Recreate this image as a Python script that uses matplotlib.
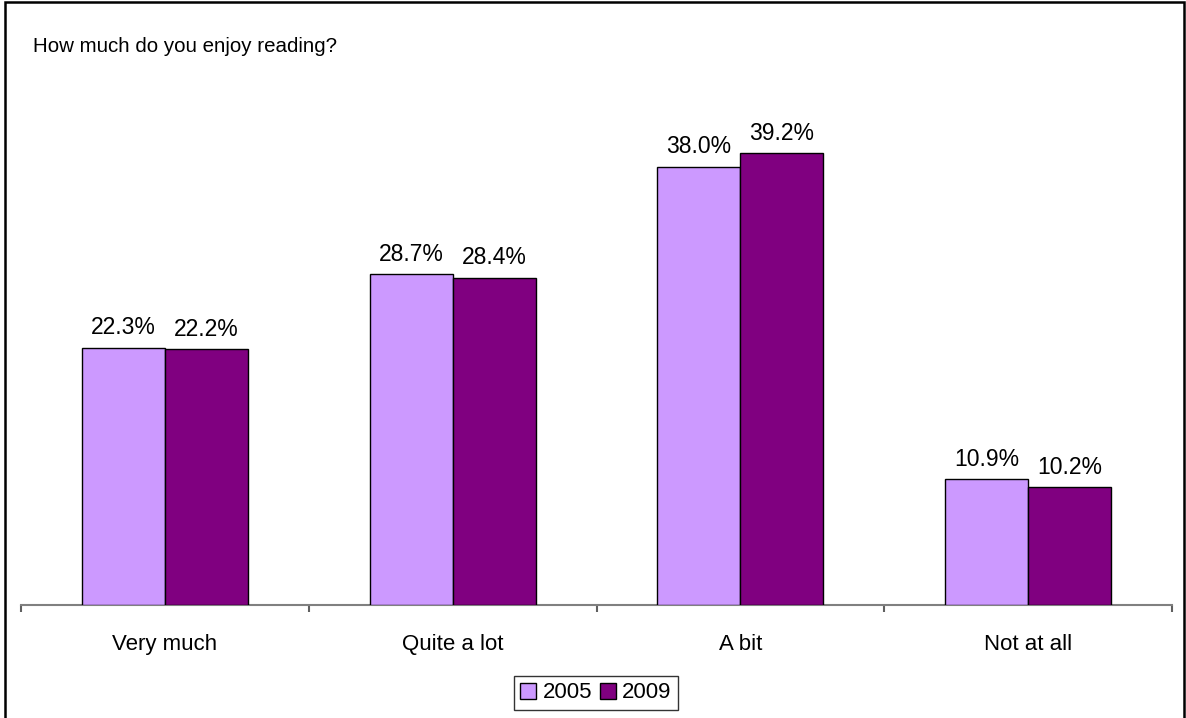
import matplotlib
matplotlib.use("Agg")
import matplotlib.pyplot as plt
from matplotlib.patches import Rectangle
import numpy as np

plt.rcParams['font.family'] = ['Liberation Sans', 'DejaVu Sans']

categories = ["Very much", "Quite a lot", "A bit", "Not at all"]
series_names = ["2005", "2009"]
values_2005 = [22.3, 28.7, 38.0, 10.9]
values_2009 = [22.2, 28.4, 39.2, 10.2]
colors = ["#CC99FF", "#800080"]

W, H = 1186, 718
fig = plt.figure(figsize=(W / 100, H / 100), dpi=100)

# axes placed in pixel units
ax_left, ax_right = 21, 1172
ax_bottom = 605
ymax = 45.0
px_per_unit = 257 / 22.3
ax_top = ax_bottom - ymax * px_per_unit
ax = fig.add_axes([ax_left / W, 1 - ax_bottom / H,
                   (ax_right - ax_left) / W, (ax_bottom - ax_top) / H])

x = np.arange(len(categories))
bw = 0.2885
for i, (vals, c) in enumerate(zip([values_2005, values_2009], colors)):
    pos = x + (i - 0.5) * bw
    ax.bar(pos, vals, width=bw, color=c, edgecolor="black", linewidth=1.0,
           label=series_names[i], zorder=3)
    for p, v in zip(pos, vals):
        ax.text(p, v + 0.75, f"{v:.1f}%", ha="center", va="bottom",
                fontsize=16.5, color="black")

ax.set_xlim(-0.5, len(categories) - 0.5)
ax.set_ylim(0, ymax)
for s in ["top", "right", "left"]:
    ax.spines[s].set_visible(False)
ax.spines["bottom"].set_color("#808080")
ax.spines["bottom"].set_linewidth(1.5)
ax.set_yticks([])
ax.set_xticks(np.arange(-0.5, len(categories), 1.0))
ax.set_xticklabels([])
ax.set_xticks(x, minor=True)
ax.set_xticklabels(categories, minor=True, fontsize=16)
ax.tick_params(axis="x", which="major", length=5, width=1.5, color="#606060",
               direction="out")
ax.tick_params(axis="x", which="minor", length=0, pad=21)

fig.text(33 / W, 1 - 47 / H, "How much do you enjoy reading?", fontsize=14.8,
         ha="left", va="center")

handles = [Rectangle((0, 0), 1, 1, facecolor=c, edgecolor="black", linewidth=1.0)
           for c in colors]
leg = fig.legend(handles, series_names, loc="center",
                 bbox_to_anchor=(596 / W, 1 - 693 / H), ncol=2, fontsize=16,
                 frameon=True, fancybox=False, edgecolor="black",
                 handlelength=0.7, handleheight=0.7, handletextpad=0.3,
                 columnspacing=0.35, borderpad=0.3, borderaxespad=0)
leg.get_frame().set_linewidth(1.0)

# outer frame
fig.patches.append(Rectangle((5 / W, -0.01), (1184 - 5) / W, 1 - 2 / H + 0.01,
                             transform=fig.transFigure, fill=False,
                             edgecolor="black", linewidth=1.8))

fig.savefig("out.png", dpi=100)
